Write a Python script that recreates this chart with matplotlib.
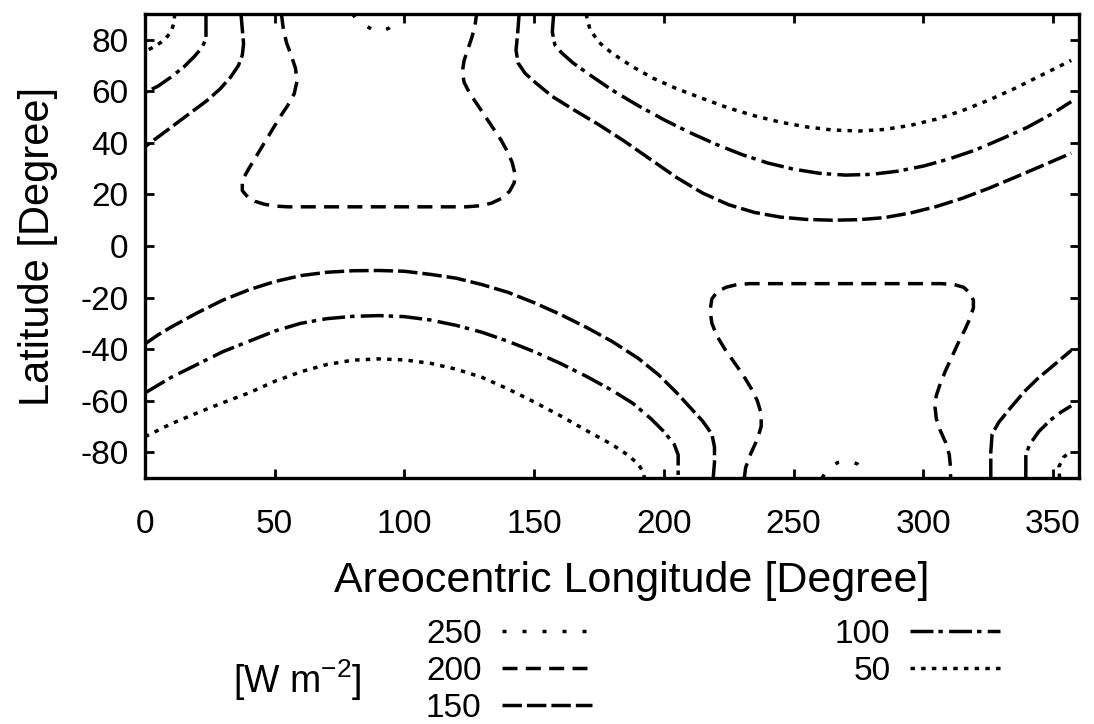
import matplotlib.pyplot as plt
from matplotlib.lines import Line2D

plt.rcParams.update({
    'font.family': ['Liberation Sans', 'DejaVu Sans'],
    'font.size': 24,
    'axes.unicode_minus': False,
    'mathtext.fontset': 'custom',
    'mathtext.rm': 'Liberation Sans',
    'mathtext.it': 'Liberation Sans:italic',
    'lines.scale_dashes': False,
})

# Daily-mean insolation isolines, (Ls, latitude) pairs per segment
contour_250 = [
    [(80, 90), (81.5, 88), (84, 86), (88, 83.8), (91, 83.2), (94, 84.5), (97, 87.5), (98.5, 90)],
    [(261, -90), (263, -86.5), (267, -84), (271, -83.3), (274.5, -84.5), (277, -87.5), (278.5, -90)],
]
contour_200 = [
    [(52.6, 90), (53.2, 85), (54.5, 79), (56.5, 73.5), (58, 69), (58.6, 64), (57.5, 59), (55, 54.5),
     (52, 50), (49, 45), (46, 40), (43, 35), (40, 30), (37.5, 25.5), (37.5, 21.5), (39.6, 19),
     (42.5, 17.3), (46, 16.2), (50, 15.5), (55, 15.2), (90, 15.2), (124, 15.2), (129, 15.6),
     (133.5, 16.6), (137.5, 18.5), (140.5, 21.2), (142.3, 24.5), (142.6, 28), (141.5, 32.5),
     (139.5, 37), (137, 41.5), (134, 46), (131, 50.5), (128, 55), (125, 59.5), (123, 63.5),
     (122.3, 67.5), (123, 72), (124.5, 76.5), (126, 81), (127.2, 85.5), (127.8, 90)],
    [(231, -90), (231.5, -86), (233.5, -80.5), (236, -75), (237.5, -70), (237.5, -65), (236, -60),
     (233.5, -55), (230.5, -50), (227, -45), (223.5, -40), (220.5, -35), (218.5, -30), (217.8, -25),
     (218.5, -20.5), (220.5, -17.8), (224, -16), (228, -15), (233, -14.6), (270, -14.6), (307, -14.6),
     (312, -15), (315.5, -16), (318, -18.3), (319.3, -21), (319.3, -24), (318, -28), (316, -32.5),
     (313.5, -37.5), (311, -43), (308.5, -48.5), (306.5, -53.5), (305, -58), (304.5, -62.5), (305, -67),
     (306.5, -71.5), (308.5, -76), (310, -81), (310.5, -86), (310.5, -90)],
]
contour_150 = [
    [(37, 90), (37.5, 84), (38, 78.5), (37.5, 74), (36, 70), (33, 65.5), (29, 61), (24, 56.5),
     (18, 52), (12, 47.5), (6, 43), (0, 38.5)],
    [(144.2, 90), (143.6, 82), (143, 76), (143.8, 71), (146.5, 67), (150.7, 63.2), (157, 58),
     (165, 53), (175, 47), (185, 40.5), (195, 33.5), (205, 26.5), (215, 20.5), (225, 16), (235, 13),
     (245, 11.2), (255, 10.3), (265, 10), (275, 10.2), (285, 11), (295, 12.8), (305, 15.3),
     (315, 18.5), (325, 22.3), (335, 26.5), (345, 30.8), (357, 36)],
    [(0, -38), (5, -34.5), (10, -31.5), (20, -26), (30, -21), (40, -17), (50, -13.8), (60, -11.5),
     (70, -10.2), (80, -9.6), (90, -9.5), (100, -9.8), (110, -11), (120, -12.5), (130, -15),
     (140, -18), (150, -22), (160, -26.5), (170, -31.5), (180, -37), (190, -43.5), (198, -50),
     (205, -57), (210, -62.5), (215, -68), (218.5, -73), (219.5, -78), (219.5, -84), (219, -90)],
    [(326, -90), (326, -80), (326.5, -73), (329, -68.5), (333, -63.5), (339, -56.4), (344, -51.5),
     (349, -47.3), (357, -40.5)],
]
contour_100 = [
    [(23.5, 90), (23.5, 80.5), (22, 77), (19, 73.5), (15, 69.5), (10, 65.5), (5, 62), (0, 59.5)],
    [(157.5, 90), (157, 83), (158, 78), (160.5, 75), (165, 71), (172, 66), (180, 60.5), (190, 54.5),
     (200, 49), (210, 44), (220, 39.5), (230, 35.5), (240, 32.2), (250, 29.8), (260, 28.2),
     (270, 27.5), (280, 27.8), (290, 29), (300, 31), (310, 33.8), (320, 37.2), (330, 41.5),
     (340, 46), (350, 51.5), (357, 56)],
    [(0, -57), (5, -54), (10, -51), (20, -46), (30, -41), (40, -37), (50, -33), (60, -30),
     (70, -28.2), (80, -27.3), (90, -27), (100, -27.4), (110, -28.7), (120, -30.8), (130, -33.5),
     (140, -37), (150, -41), (160, -45.5), (170, -50.5), (180, -56), (188, -61), (195, -67),
     (200, -72), (204, -77), (205.5, -81), (205.5, -90)],
    [(339.5, -90), (339.5, -81), (341, -77), (344.5, -72), (349, -67.5), (353, -64.5), (357, -62)],
]
contour_50 = [
    [(11.5, 90), (11, 86), (10, 83), (7.5, 80), (4, 77.5), (0, 75.5)],
    [(170, 90), (171.5, 84), (175, 79), (180, 74.8), (188, 69.5), (196, 65), (205, 61), (215, 57.2),
     (225, 53.5), (235, 50.5), (245, 48), (255, 46.2), (265, 45), (275, 44.6), (285, 45.2),
     (295, 46.8), (305, 49.2), (315, 52.5), (325, 56.5), (335, 61), (345, 66), (357, 72)],
    [(0, -74), (5, -71.5), (10, -69), (20, -64.8), (30, -60.8), (40, -57), (50, -52.5), (60, -48.8),
     (70, -46), (80, -44.3), (90, -43.8), (100, -44.2), (110, -45.5), (120, -47.8), (130, -51),
     (140, -55.5), (150, -60.5), (160, -65.8), (170, -71.5), (180, -77), (186, -81), (190, -84.5),
     (192, -87.5), (192.5, -90)],
    [(352.5, -90), (352.3, -85.5), (354, -82), (357, -79.5)],
]

levels = [250, 200, 150, 100, 50]
segments = {250: contour_250, 200: contour_200, 150: contour_150, 100: contour_100, 50: contour_50}

# gnuplot-like dash patterns (points)
dashes = {
    250: (2.9, 11.5),
    200: (10.8, 6.0),
    150: (14.0, 3.6),
    100: (16.5, 3.6, 3.2, 4.5),
    50: (3.2, 4.5),
}
lw = 2.5

fig = plt.figure(figsize=(10.94, 7.24), dpi=100)
ax = fig.add_axes([145 / 1094, 1 - 478 / 724, 934 / 1094, 464 / 724])

handles = []
for lev in levels:
    for seg in segments[lev]:
        xs = [p[0] for p in seg]
        ys = [p[1] for p in seg]
        ax.plot(xs, ys, color='black', lw=lw, dashes=dashes[lev], dash_capstyle='butt',
                dash_joinstyle='round')
    handles.append(Line2D([], [], color='black', lw=lw, dashes=dashes[lev], dash_capstyle='butt'))

ax.set_xlim(0, 360)
ax.set_ylim(-90, 90)
ax.set_xticks(range(0, 351, 50))
ax.set_yticks(range(-80, 81, 20))
ax.tick_params(direction='in', length=6.5, width=2, top=True, right=True, labelsize=24)
ax.tick_params(axis='x', pad=22)
ax.tick_params(axis='y', pad=12)
for sp in ax.spines.values():
    sp.set_linewidth(2.4)

ax.set_xlabel('Areocentric Longitude [Degree]', fontsize=31)
ax.xaxis.set_label_coords(0.521, -0.178)
ax.set_ylabel('Latitude [Degree]', fontsize=30)
ax.yaxis.set_label_coords(-0.093, 0.5)

fig.legend(handles, [str(l) for l in levels], ncol=2, markerfirst=False, frameon=False,
           loc='upper left', bbox_to_anchor=(426 / 1094, 1 - 619 / 724), borderpad=0,
           borderaxespad=0, handlelength=2.7, handletextpad=0.6, columnspacing=7.3,
           labelspacing=0.18, fontsize=24)
fig.text(297 / 1094, 1 - 680 / 724, r'[W m$^{\mathregular{-2}}$]', ha='center', va='center', fontsize=27)

fig.savefig('out.png', dpi=100)
